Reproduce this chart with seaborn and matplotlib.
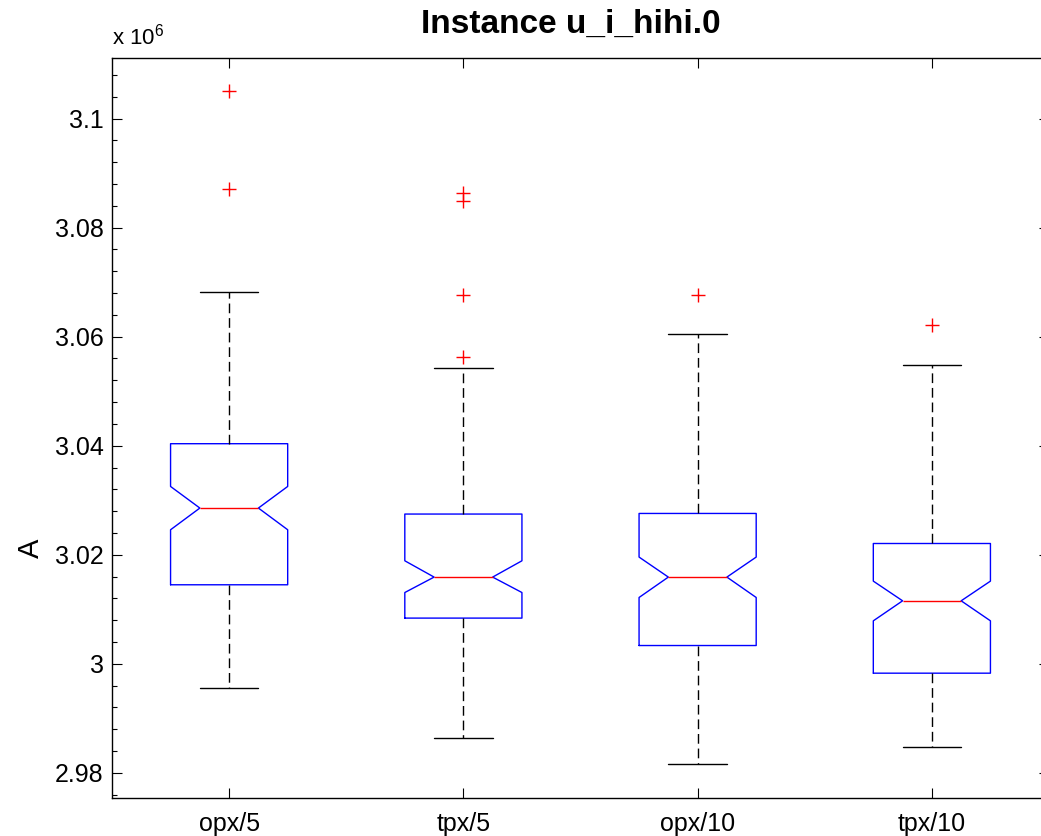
import matplotlib
matplotlib.use('Agg')
import matplotlib.pyplot as plt
import matplotlib.ticker as mticker
import seaborn as sns

# Data
groups = ['opx/5', 'tpx/5', 'opx/10', 'tpx/10']
q1 = [3.01450e6, 3.00839e6, 3.00336e6, 2.99829e6]
medians = [3.02857e6, 3.01591e6, 3.01591e6, 3.01156e6]
q3 = [3.04037e6, 3.02747e6, 3.02758e6, 3.02207e6]
notch_lo = [3.02459e6, 3.01308e6, 3.01217e6, 3.00789e6]
notch_hi = [3.03253e6, 3.01890e6, 3.01958e6, 3.01517e6]
whisker_lo = [2.99554e6, 2.98648e6, 2.98165e6, 2.98477e6]
whisker_hi = [3.06820e6, 3.05431e6, 3.06050e6, 3.05486e6]
outliers = [
    [3.10501e6, 3.08710e6],
    [3.08637e6, 3.08490e6, 3.06765e6, 3.05620e6],
    [3.06771e6],
    [3.06220e6],
]

# Style
sns.set_theme(style='white')
plt.rcParams['font.family'] = ['Liberation Sans', 'DejaVu Sans']
plt.rcParams['mathtext.fontset'] = 'custom'
plt.rcParams['mathtext.rm'] = 'Liberation Sans'

stats = []
for i, name in enumerate(groups):
    stats.append({
        'label': name,
        'q1': q1[i], 'med': medians[i], 'q3': q3[i],
        'cilo': notch_lo[i], 'cihi': notch_hi[i],
        'whislo': whisker_lo[i], 'whishi': whisker_hi[i],
        'fliers': outliers[i],
    })

fig = plt.figure(figsize=(10.41, 8.36), dpi=100)
ax = fig.add_axes([112 / 1041, 1 - 798 / 836, 937 / 1041, 740 / 836])

ax.bxp(stats, positions=[1, 2, 3, 4], widths=0.5, capwidths=0.25,
       shownotches=True,
       boxprops=dict(color='blue', linewidth=1.0),
       medianprops=dict(color='red', linewidth=1.0),
       whiskerprops=dict(color='black', linewidth=1.0, linestyle=(0, (7, 3.5))),
       capprops=dict(color='black', linewidth=1.0),
       flierprops=dict(marker='+', markeredgecolor='red', markersize=10,
                       markeredgewidth=1.0, linestyle='none'))

ax.set_xlim(0.5, 4.5)
ax.set_ylim(2.9754e6, 3.1111e6)

ax.yaxis.set_major_locator(mticker.MultipleLocator(20000))
ax.yaxis.set_minor_locator(mticker.MultipleLocator(4000))
ax.yaxis.set_major_formatter(mticker.FuncFormatter(lambda v, p: f'{v / 1e6:g}'))

ax.tick_params(axis='both', which='both', direction='in',
               left=True, bottom=True, top=True, right=True,
               color='black', labelcolor='black')
ax.tick_params(axis='both', which='major', length=7, width=0.8)
ax.tick_params(axis='y', which='minor', length=3.5, width=0.8)
ax.tick_params(axis='y', which='major', labelsize=18, pad=6)
ax.tick_params(axis='x', which='major', labelsize=18, pad=10)

for s in ax.spines.values():
    s.set_color('black')
    s.set_linewidth(1.0)

ax.set_ylabel('A', fontsize=21, color='black')
ax.yaxis.set_label_coords(-0.072, 0.338)

ax.set_title('Instance u_i_hihi.0', fontsize=24, fontweight='bold', pad=18,
             color='black', x=0.49)
ax.text(0.0, 1.012, r'x 10$^{6}$', transform=ax.transAxes, fontsize=16,
        ha='left', va='bottom', color='black')

fig.savefig('out.png', dpi=100)
